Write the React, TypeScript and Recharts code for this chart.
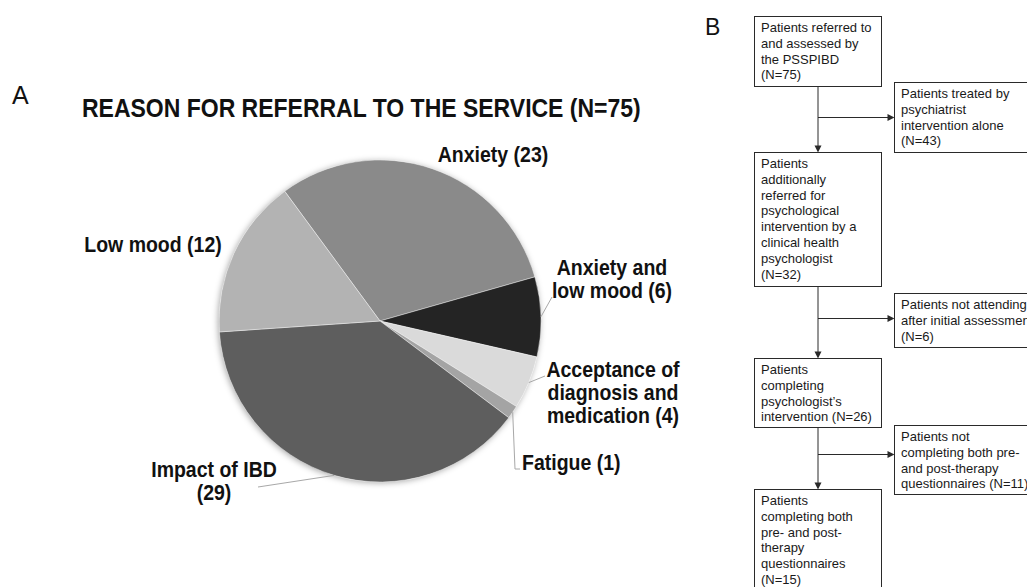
import React from "react";
import { PieChart, Pie, Cell } from "recharts";

// ---------- data ----------
const categories = [
  "Anxiety",
  "Anxiety and low mood",
  "Acceptance of diagnosis and medication",
  "Fatigue",
  "Impact of IBD",
  "Low mood",
];
const counts = [23, 6, 4, 1, 29, 12];
const labelTexts = [
  ["Anxiety (23)"],
  ["Anxiety and", "low mood (6)"],
  ["Acceptance of", "diagnosis and", "medication (4)"],
  ["Fatigue (1)"],
  ["Impact of IBD", "(29)"],
  ["Low mood (12)"],
];
const titleText = "REASON FOR REFERRAL TO THE SERVICE (N=75)";

const flowMain = [
  ["Patients referred to", "and assessed by", "the PSSPIBD", "(N=75)"],
  [
    "Patients",
    "additionally",
    "referred for",
    "psychological",
    "intervention by a",
    "clinical health",
    "psychologist",
    "(N=32)",
  ],
  ["Patients", "completing", "psychologist’s", "intervention (N=26)"],
  [
    "Patients",
    "completing both",
    "pre- and post-",
    "therapy",
    "questionnaires",
    "(N=15)",
  ],
];
const flowSide = [
  ["Patients treated by", "psychiatrist", "intervention alone", "(N=43)"],
  ["Patients not attending", "after initial assessment", "(N=6)"],
  ["Patients not", "completing both pre-", "and post-therapy", "questionnaires (N=11)"],
];

// ---------- styles ----------
const sliceColors = ["#8a8a8a", "#242424", "#dadada", "#a4a4a4", "#5e5e5e", "#b3b3b3"];
const FONT = "'Liberation Sans', Arial, Helvetica, sans-serif";
const STRETCH = 1.12;
const PIE_CX = 380;
const PIE_CY = 321;
const PIE_R = 161;

// label placement relative to pie centre
const labelLayout: {
  x: number;
  y: number;
  anchor: "start" | "middle" | "end";
  line?: [number, number][];
}[] = [
  { x: 113, y: -159, anchor: "middle" },
  { x: 232, y: -46, anchor: "middle", line: [[172, -24]] },
  { x: 233, y: 56, anchor: "middle", line: [[165, 55]] },
  { x: 142, y: 149, anchor: "start", line: [[135, 148], [140, 148]] },
  { x: -166, y: 156, anchor: "middle", line: [[-122, 166]] },
  { x: -227, y: -69, anchor: "middle" },
];

const data = categories.map((c, i) => ({ name: c, value: counts[i] }));

const RAD = Math.PI / 180;

const renderLabel = (props: any) => {
  const { cx, cy, midAngle, outerRadius, index } = props;
  const lay = labelLayout[index];
  const lines = labelTexts[index];
  const sx = cx + outerRadius * Math.cos(-midAngle * RAD);
  const sy = cy + outerRadius * Math.sin(-midAngle * RAD);
  return (
    <g key={`lbl-${index}`}>
      {lay.line && (
        <polyline
          points={[[sx - cx, sy - cy], ...lay.line]
            .map(([px, py]) => `${cx + px},${cy + py}`)
            .join(" ")}
          fill="none"
          stroke="#a8a8a8"
          strokeWidth={1}
        />
      )}
      {lines.map((t, li) => (
        <text
          key={li}
          transform={`translate(${cx + lay.x},${cy + lay.y + li * 23}) scale(1,${STRETCH})`}
          textAnchor={lay.anchor}
          fontFamily={FONT}
          fontWeight="bold"
          fontSize={19.5}
          fill="#111"
        >
          {t}
        </text>
      ))}
    </g>
  );
};

const MAIN_X = 754;
const MAIN_W = 127;
const SIDE_X = 894;
const SIDE_W = 160;
const mainTops = [16, 152, 358, 489];
const mainHeights = [70, 134, 69, 110];
const sideTops = [82, 293, 425];
const sideHeights = [70, 54, 69];
const branchY = [117, 318, 454];
const STROKE = "#2a2a2a";

const Box = ({ x, y, w, h, lines }: { x: number; y: number; w: number; h: number; lines: string[] }) => (
  <g>
    <rect x={x + 0.5} y={y + 0.5} width={w} height={h} fill="#fff" stroke={STROKE} strokeWidth={1} />
    {lines.map((t, i) => (
      <text key={i} x={x + 7} y={y + 16 + i * 15.8} fontFamily={FONT} fontSize={13} fill="#1a1a1a">
        {t}
      </text>
    ))}
  </g>
);

const ArrowDown = ({ x, y }: { x: number; y: number }) => (
  <polygon points={`${x - 3.5},${y - 7} ${x + 3.5},${y - 7} ${x},${y}`} fill={STROKE} />
);
const ArrowRight = ({ x, y }: { x: number; y: number }) => (
  <polygon points={`${x - 7},${y - 3.5} ${x - 7},${y + 3.5} ${x},${y}`} fill={STROKE} />
);

const Flowchart = () => {
  const cxLine = MAIN_X + MAIN_W / 2 + 0.5;
  const items: React.ReactNode[] = [];
  for (let i = 0; i < 3; i++) {
    const y0 = mainTops[i] + mainHeights[i] + 0.5;
    const y1 = mainTops[i + 1];
    items.push(
      <g key={`c${i}`}>
        <line x1={cxLine} y1={y0} x2={cxLine} y2={y1 - 6} stroke={STROKE} strokeWidth={1} />
        <ArrowDown x={cxLine} y={y1 + 0.5} />
        <line x1={cxLine} y1={branchY[i] + 0.5} x2={SIDE_X - 6} y2={branchY[i] + 0.5} stroke={STROKE} strokeWidth={1} />
        <ArrowRight x={SIDE_X + 0.5} y={branchY[i] + 0.5} />
      </g>
    );
  }
  return (
    <g>
      {items}
      {flowMain.map((l, i) => (
        <Box key={`m${i}`} x={MAIN_X} y={mainTops[i]} w={MAIN_W} h={mainHeights[i]} lines={l} />
      ))}
      {flowSide.map((l, i) => (
        <Box key={`s${i}`} x={SIDE_X} y={sideTops[i]} w={SIDE_W} h={sideHeights[i]} lines={l} />
      ))}
    </g>
  );
};

export default function App() {
  return (
    <div
      style={{
        position: "absolute",
        left: 0,
        top: 0,
        width: 1027,
        height: 587,
        overflow: "hidden",
        background: "#fff",
      }}
    >
      {/* soft shadow behind the pie */}
      <div
        style={{
          position: "absolute",
          left: PIE_CX - PIE_R,
          top: PIE_CY - PIE_R,
          width: PIE_R * 2,
          height: PIE_R * 2,
          borderRadius: "50%",
          boxShadow: "-1px 1px 6px rgba(0,0,0,0.35)",
        }}
      />
      <div style={{ position: "absolute", left: 0, top: 0 }}>
        <PieChart width={1027} height={587} margin={{ top: 0, right: 0, bottom: 0, left: 0 }}>
          <Pie
            data={data}
            dataKey="value"
            nameKey="name"
            cx={PIE_CX}
            cy={PIE_CY}
            outerRadius={PIE_R}
            startAngle={126.3}
            endAngle={-233.7}
            stroke="#ffffff"
            strokeWidth={0.4}
            label={renderLabel}
            labelLine={false}
            isAnimationActive={false}
          >
            {data.map((_, i) => (
              <Cell key={i} fill={sliceColors[i]} />
            ))}
          </Pie>
        </PieChart>
      </div>
      <svg
        width={1027}
        height={587}
        style={{ position: "absolute", left: 0, top: 0, pointerEvents: "none" }}
      >
        <text x={12} y={104} fontFamily={FONT} fontSize={25} fill="#111">
          A
        </text>
        <text
          transform={`translate(82,117) scale(1,1.16)`}
          fontFamily={FONT}
          fontWeight="bold"
          fontSize={23}
          fill="#111"
        >
          {titleText}
        </text>
        <text x={705} y={35} fontFamily={FONT} fontSize={23} fill="#111">
          B
        </text>
        <Flowchart />
      </svg>
    </div>
  );
}
